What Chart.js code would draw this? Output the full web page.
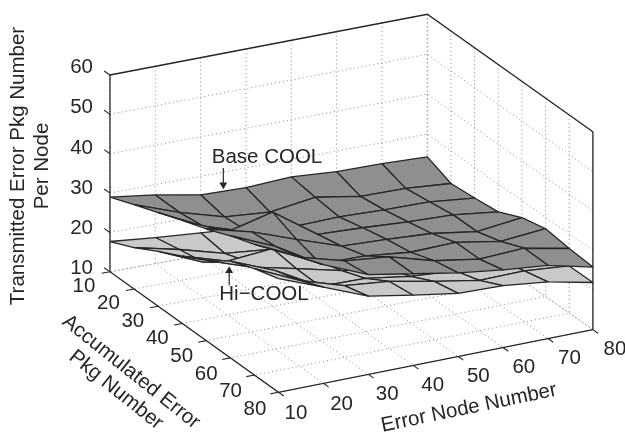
<!DOCTYPE html>
<html>
<head>
<meta charset="utf-8">
<style>
  html, body { margin: 0; padding: 0; background: #fff; }
  canvas { display: block; }
</style>
<script src="https://cdn.jsdelivr.net/npm/chart.js@4/dist/chart.umd.min.js"></script>
</head>
<body>
<canvas id="chart" width="625" height="433"></canvas>
<script>
// Tick values
const nodeTicks = [10, 20, 30, 40, 50, 60, 70, 80];
const accumTicks = [10, 20, 30, 40, 50, 60, 70, 80];
const zTicks = [10, 20, 30, 40, 50, 60];

// One row per accumulated error value, one column per error node value
const baseCool = [
  [29.0, 27.4, 25.3, 25.0, 25.6, 24.8, 24.7, 24.3],
  [31.4, 27.3, 24.0, 23.1, 24.7, 22.8, 22.7, 21.8],
  [33.7, 28.1, 24.5, 23.7, 24.0, 23.6, 23.5, 22.3],
  [36.1, 31.0, 33.8, 26.0, 25.5, 24.8, 24.4, 23.0],
  [38.2, 35.3, 31.2, 27.3, 26.8, 26.1, 24.4, 25.7],
  [40.8, 35.9, 29.3, 29.1, 27.8, 28.1, 26.1, 27.1],
  [42.9, 37.5, 34.3, 33.1, 29.9, 28.1, 28.6, 26.3],
  [45.6, 39.9, 35.1, 33.1, 31.1, 29.6, 28.5, 25.8],
];
const hiCool = [
  [17.7, 16.6, 15.7, 14.9, 14.8, 14.2, 13.6, 12.5],
  [20.5, 17.9, 14.8, 13.7, 15.0, 13.9, 13.3, 12.2],
  [23.9, 19.0, 16.9, 15.5, 15.4, 14.7, 14.1, 12.9],
  [27.0, 23.6, 24.6, 19.3, 18.1, 17.4, 16.3, 14.6],
  [30.3, 26.4, 23.8, 21.1, 19.4, 18.7, 17.0, 16.8],
  [34.4, 29.8, 23.6, 23.4, 21.7, 20.9, 21.2, 20.4],
  [36.8, 31.6, 28.1, 26.9, 24.7, 22.7, 22.9, 21.9],
  [38.6, 34.2, 29.7, 27.7, 25.9, 25.6, 24.3, 21.9],
];

// View: where the corners of the box floor land on the canvas, and box height
const cornerLeft = [107, 273];   // node 10, accum 10
const cornerBack = [429, 214];   // node 80, accum 10
const cornerFront = [278, 396];  // node 10, accum 80
const cornerRight = [597, 332];  // node 80, accum 80
const boxHeight = { left: 201, back: 204, front: 203, right: 202 };

function project(node, accum, z) {
  const u = (node - 10) / 70;
  const v = (accum - 10) / 70;
  const w = (z - 10) / 50;
  const mix = (a, b, c, d) => a * (1 - u) * (1 - v) + b * u * (1 - v) + c * (1 - u) * v + d * u * v;
  const x = mix(cornerLeft[0], cornerBack[0], cornerFront[0], cornerRight[0]);
  const y = mix(cornerLeft[1], cornerBack[1], cornerFront[1], cornerRight[1]);
  const h = mix(boxHeight.left, boxHeight.back, boxHeight.front, boxHeight.right);
  return { x: x, y: y - h * w };
}

const inkColor = "#262626";
const gridColor = "#8a8a8a";
let datasets = [];

function addLine(points, color, width, dash) {
  datasets.push({
    data: points,
    showLine: true,
    fill: false,
    borderColor: color,
    borderWidth: width,
    borderDash: dash || [],
    pointRadius: 0,
    tension: 0,
  });
}

function addArrow(from, to, rotation) {
  datasets.push({
    data: [from, to],
    showLine: true,
    fill: false,
    borderColor: inkColor,
    borderWidth: 1.2,
    backgroundColor: inkColor,
    pointBackgroundColor: inkColor,
    pointBorderWidth: 0,
    pointStyle: "triangle",
    pointRotation: rotation,
    pointRadius: [0, 4.5],
    tension: 0,
  });
}

// Chart.js paints the first dataset on top, so surfaces go nearest first
function addSurface(values, fillColor) {
  let cells = [];
  for (let j = 0; j < accumTicks.length - 1; j++) {
    for (let i = 0; i < nodeTicks.length - 1; i++) {
      cells.push({ i: i, j: j });
    }
  }
  cells.sort((a, b) => (b.j - b.i) - (a.j - a.i));
  cells.forEach((c) => {
    const n0 = nodeTicks[c.i], n1 = nodeTicks[c.i + 1];
    const a0 = accumTicks[c.j], a1 = accumTicks[c.j + 1];
    datasets.push({
      data: [
        project(n0, a0, values[c.j][c.i]),
        project(n1, a0, values[c.j][c.i + 1]),
        project(n1, a1, values[c.j + 1][c.i + 1]),
        project(n0, a1, values[c.j + 1][c.i]),
        project(n0, a0, values[c.j][c.i]),
      ],
      showLine: true,
      fill: "shape",
      backgroundColor: fillColor,
      borderColor: inkColor,
      borderWidth: 1.3,
      borderJoinStyle: "round",
      pointRadius: 0,
      tension: 0,
    });
  });
}

addArrow({ x: 222, y: 167 }, { x: 222, y: 184 }, 180);
addArrow({ x: 228, y: 287 }, { x: 228, y: 272 }, 0);

addSurface(baseCool, "#8f8f8f");
addSurface(hiCool, "#c9c9c9");

// Box outline
addLine([project(10, 10, 60), project(80, 10, 60), project(80, 80, 60)], inkColor, 1.3);
addLine([project(10, 10, 10), project(10, 10, 60)], inkColor, 1.3);
addLine([project(80, 80, 10), project(80, 80, 60)], inkColor, 1.3);
addLine([project(10, 10, 10), project(10, 80, 10), project(80, 80, 10)], inkColor, 1.3);

// Tick marks
nodeTicks.forEach((n) => addLine([project(n, 80, 10), project(n, 82.2, 10)], inkColor, 1.1));
accumTicks.forEach((a) => addLine([project(10, a, 10), project(8.2, a, 10)], inkColor, 1.1));
zTicks.forEach((z) => addLine([project(10, 10, z), project(10, 7.6, z)], inkColor, 1.1));

// Dotted grid on the two back walls and the floor
const dots = [1, 3];
zTicks.forEach((z) => {
  addLine([project(10, 10, z), project(80, 10, z), project(80, 80, z)], gridColor, 1, dots);
});
nodeTicks.forEach((n) => {
  addLine([project(n, 10, 60), project(n, 10, 10), project(n, 80, 10)], gridColor, 1, dots);
});
accumTicks.forEach((a) => {
  addLine([project(80, a, 60), project(80, a, 10), project(10, a, 10)], gridColor, 1, dots);
});

// Tick labels and titles
const textPlugin = {
  id: "axisText",
  afterDraw(chart) {
    const ctx = chart.ctx;
    const put = (text, x, y, angle, align) => {
      ctx.save();
      ctx.translate(x, y);
      ctx.rotate((angle * Math.PI) / 180);
      ctx.textAlign = align || "center";
      ctx.textBaseline = "middle";
      ctx.fillText(text, 0, 0);
      ctx.restore();
    };
    ctx.save();
    ctx.fillStyle = inkColor;
    ctx.font = '20.5px "Liberation Sans"';
    zTicks.forEach((z) => {
      put(String(z), 93, project(10, 10, z).y - 4.5, 0, "right");
    });
    accumTicks.forEach((a) => {
      const p = project(10, a, 10);
      put(String(a), p.x - 23, p.y + 13, 0);
    });
    nodeTicks.forEach((n) => {
      const p = project(n, 80, 10);
      put(String(n), p.x + 18, p.y + 17, 0);
    });
    put("Transmitted Error Pkg Number", 18, 166, -90);
    put("Per Node", 42, 166, -90);
    put("Accumulated Error", 131, 372, 38.6);
    put("Pkg Number", 116, 390, 38.8);
    put("Error Node Number", 469, 408, -11.7);
    put("Base COOL", 267, 157, 0);
    put("Hi\u2212COOL", 264, 294, 0);
    ctx.restore();
  },
};

new Chart(document.getElementById("chart"), {
  type: "scatter",
  data: { datasets: datasets },
  options: {
    responsive: false,
    animation: false,
    layout: { padding: 0 },
    scales: {
      x: { type: "linear", min: 0, max: 625, display: false },
      y: { type: "linear", min: 0, max: 433, reverse: true, display: false },
    },
    plugins: {
      legend: { display: false },
      tooltip: { enabled: false },
    },
  },
  plugins: [textPlugin],
});
</script>
</body>
</html>
